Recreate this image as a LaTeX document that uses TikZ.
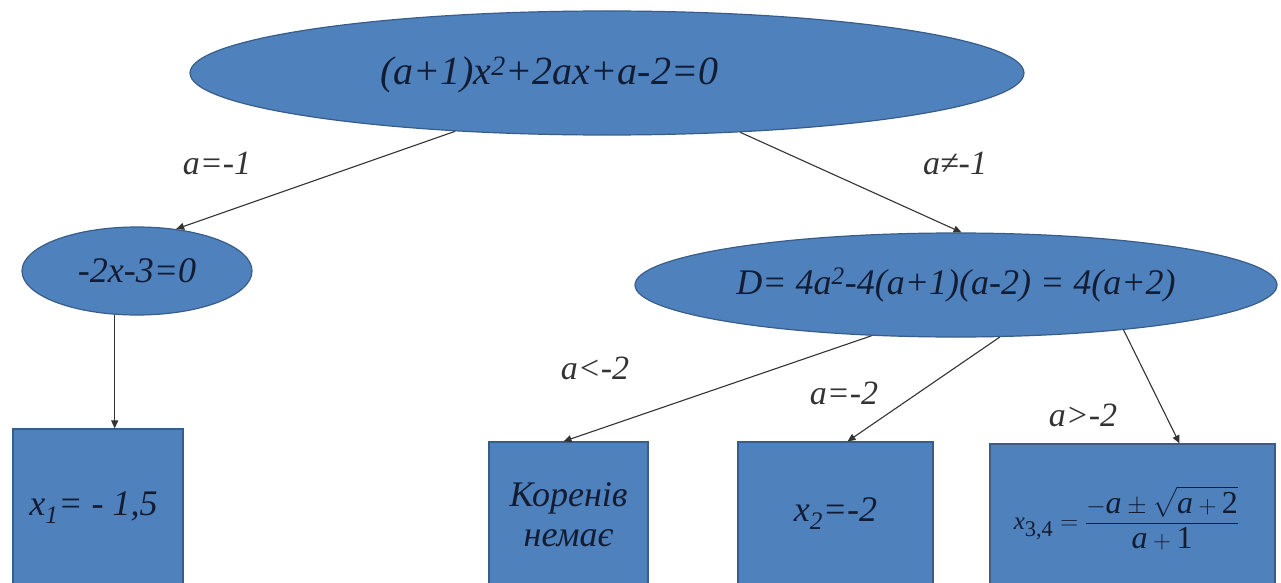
\documentclass[tikz,border=0pt]{standalone}
\usepackage{amsmath}
\usepackage{fontspec}
\setmainfont{Liberation Serif}
\usetikzlibrary{shapes.geometric,arrows.meta,calc}
\definecolor{boxfill}{HTML}{4F81BD}
\definecolor{boxline}{HTML}{385D8A}
\definecolor{inktext}{HTML}{121C33}
\definecolor{linkgray}{HTML}{333333}
\newcommand{\ia}{\textit{a}}
\begin{document}
\begin{tikzpicture}[x=1pt,y=-1pt,
  oval/.style={ellipse, draw=boxline, line width=1.2pt, fill=boxfill, inner sep=0pt, text=inktext, font=\fontsize{36}{40}\selectfont\itshape},
  sq/.style={rectangle, draw=boxline, line width=1.2pt, fill=boxfill, inner sep=0pt, text=inktext, font=\fontsize{36}{40}\selectfont\itshape, align=center},
  inner/.style={text=inktext, font=\fontsize{40}{44}\selectfont\itshape, inner sep=0pt},
  cond/.style={text=linkgray, font=\fontsize{34}{38}\selectfont\itshape, inner sep=0pt},
  link/.style={draw=linkgray, line width=1.1pt, -{Triangle[length=8pt,width=7pt]}}
]
\useasboundingbox (0,0) rectangle (1281,583);
\clip (0,0) rectangle (1281,583);
\fill[white] (0,0) rectangle (1281,583);

% ellipses
\node[oval, minimum width=834pt, minimum height=124pt] (e0) at (607,73) {};
\node[inner] (t0) at (549,75) {(a+1)x\textsuperscript{2}+2ax+a-2=0};
\node[oval, minimum width=230pt, minimum height=88pt] (e1) at (137,271) {-2x-3=0};
\node[oval, minimum width=642pt, minimum height=104pt] (e2) at (956,285) {D= 4a\textsuperscript{2}-4(a+1)(a-2) = 4(a+2)};

% boxes (cut by the lower edge)
\node[sq, minimum width=170pt, minimum height=158pt] (b1) at (98,508) {\hspace*{-9pt}x\textsubscript{1}= - 1,5};
\node[sq, minimum width=159pt, minimum height=146pt] (b2) at (568.5,515) {Коренів\\немає};
\node[sq, minimum width=195pt, minimum height=144pt] (b3) at (835.5,514) {x\textsubscript{2}=-2};
\node[sq, minimum width=285pt, minimum height=148pt] (b4) at (1132.5,518) {\hspace*{-12pt}\fontsize{32}{34}\selectfont$\displaystyle \text{\fontsize{25}{25}\selectfont\itshape x}_{\textup{3,4}}=\frac{-\ia\pm\sqrt{\ia+\textup{2}}}{\ia+\textup{1}}$};

% connectors
\draw[link] (e0.201) -- (e1.47.5);
\draw[link] (e0.336) -- (e2.84);
\draw[link] (e1.243) -- (e1.243 |- b1.north);
\draw[link] (e2.211) -- ([xshift=-5pt]b2.north);
\draw[link] (e2.310.5) -- ([xshift=12pt]b3.north);
\draw[link] (e2.345.6) -- ([xshift=47pt]b4.north);

% labels
\node[cond] (l1) at (217,163) {a=-1};
\node[cond] (l2) at (955,163) {a≠-1};
\node[cond] (l3) at (595,368) {a<-2};
\node[cond] (l4) at (844,393) {a=-2};
\node[cond] (l5) at (1083,415) {a>-2};
\end{tikzpicture}
\end{document}
